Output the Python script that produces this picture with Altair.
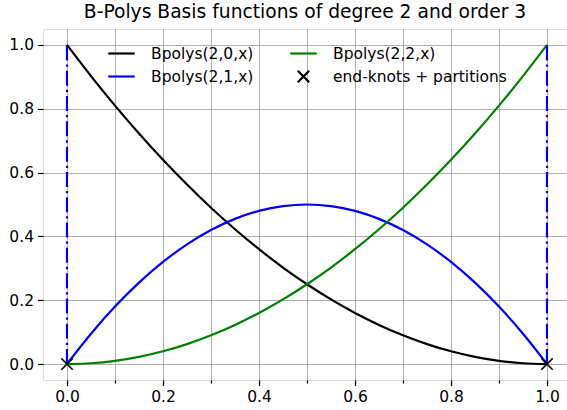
import altair as alt
import pandas as pd

# ---- data ----
x_vals = [0.0, 0.05, 0.1, 0.15, 0.2, 0.25, 0.3, 0.35, 0.4, 0.45, 0.5,
          0.55, 0.6, 0.65, 0.7, 0.75, 0.8, 0.85, 0.9, 0.95, 1.0]
b20 = [1.0, 0.9025, 0.81, 0.7225, 0.64, 0.5625, 0.49, 0.4225, 0.36, 0.3025, 0.25,
       0.2025, 0.16, 0.1225, 0.09, 0.0625, 0.04, 0.0225, 0.01, 0.0025, 0.0]
b21 = [0.0, 0.095, 0.18, 0.255, 0.32, 0.375, 0.42, 0.455, 0.48, 0.495, 0.5,
       0.495, 0.48, 0.455, 0.42, 0.375, 0.32, 0.255, 0.18, 0.095, 0.0]
b22 = [0.0, 0.0025, 0.01, 0.0225, 0.04, 0.0625, 0.09, 0.1225, 0.16, 0.2025, 0.25,
       0.3025, 0.36, 0.4225, 0.49, 0.5625, 0.64, 0.7225, 0.81, 0.9025, 1.0]
series_names = ["Bpolys(2,0,x)", "Bpolys(2,1,x)", "Bpolys(2,2,x)", "end-knots + partitions"]
knot_x = [0.0, 1.0]
knot_y = [0.0, 0.0]
part_x = [0.0, 1.0]
part_y_low = [0.0, 0.0]
part_y_high = [1.0, 1.0]
tick_values = [0.0, 0.05, 0.1, 0.15, 0.2, 0.25, 0.3, 0.35, 0.4, 0.45, 0.5,
               0.55, 0.6, 0.65, 0.7, 0.75, 0.8, 0.85, 0.9, 0.95, 1.0]

rows = []
for name, ys in zip(series_names[:3], [b20, b21, b22]):
    for xv, yv in zip(x_vals, ys):
        rows.append({"x": xv, "y": yv, "series": name})
curves = pd.DataFrame(rows)
knots = pd.DataFrame({"x": knot_x, "y": knot_y, "series": series_names[3]})
parts = pd.DataFrame({"x": part_x, "y0": part_y_low, "y1": part_y_high})

legend_domain = series_names
color_scale = alt.Scale(domain=legend_domain, range=["#000000", "#0000ff", "#008000", "#000000"])
xpath = "M-0.43,-0.43L0.43,0.43M0.43,-0.43L-0.43,0.43"
shape_scale = alt.Scale(domain=legend_domain, range=["stroke", "stroke", "stroke", xpath])

FONT = "DejaVu Sans"
SYM = 700
legend = alt.Legend(orient="none", legendX=64, legendY=10, columns=2, title=None,
                    labelFont=FONT, labelFontSize=15.5, labelColor="black",
                    labelLimit=400,
                    columnPadding=31, rowPadding=-2, labelOffset=15,
                    symbolSize=SYM, symbolStrokeWidth=2.2, padding=0)

major_test = "abs(datum.value*5 - round(datum.value*5)) < 0.001"


def make_axis(pad):
    return alt.Axis(values=tick_values, grid=True, gridColor="#b0b0b0", gridWidth=1,
                    domain=False, tickColor="black", tickWidth=1.2,
                    tickSize={"condition": {"test": major_test, "value": 5.5}, "value": 3},
                    labelExpr=major_test + " ? format(datum.value, '.1f') : ''",
                    labelFont=FONT, labelFontSize=15.5, labelColor="black",
                    labelPadding=pad, labelOverlap=False, labelFlush=False, title=None)


xscale = alt.Scale(domain=[-0.05, 1.0417], nice=False, zero=False)
yscale = alt.Scale(domain=[-0.05, 1.05], nice=False, zero=False)

lines = alt.Chart(curves).mark_line(strokeWidth=2.2, interpolate="monotone").encode(
    x=alt.X("x:Q", scale=xscale, axis=make_axis(4)),
    y=alt.Y("y:Q", scale=yscale, axis=make_axis(4)),
    color=alt.Color("series:N", scale=color_scale, legend=legend, sort=legend_domain),
)

partitions = alt.Chart(parts).mark_rule(color="#0000ff", strokeWidth=2.2,
                                        strokeDash=[15, 4, 2.3, 4]).encode(
    x="x:Q", y="y0:Q", y2="y1:Q"
)

points = alt.Chart(knots).mark_point(filled=False, strokeWidth=1.6, opacity=1,
                                     size=SYM).encode(
    x="x:Q", y="y:Q",
    color=alt.Color("series:N", scale=color_scale, legend=legend, sort=legend_domain),
    shape=alt.Shape("series:N", scale=shape_scale, legend=legend, sort=legend_domain),
)

chart = alt.layer(lines, partitions, points).properties(
    width=524, height=351,
    title=alt.Title("B-Polys Basis functions of degree 2 and order 3",
                    font=FONT, fontSize=18.7, fontWeight="normal", color="black", offset=7),
    autosize=alt.AutoSizeParams(type="none"),
    padding={"left": 43, "top": 29, "right": 0, "bottom": 30},
).configure_view(stroke="black", strokeWidth=1.2).configure(background="white")

chart.save("out.html", embed_options={"renderer": "svg", "actions": False})
